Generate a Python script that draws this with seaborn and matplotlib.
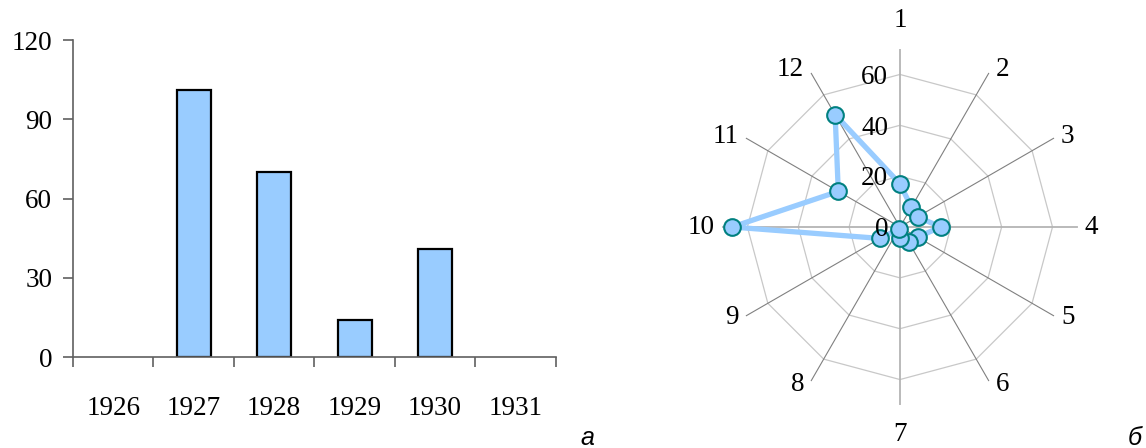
import numpy as np
import pandas as pd
import matplotlib
matplotlib.use('Agg')
import matplotlib.pyplot as plt
import seaborn as sns

# bar chart data (a)
years = ['1926', '1927', '1928', '1929', '1930', '1931']
counts = [0, 101, 70, 14, 41, 0]
bar_yticks = [0, 30, 60, 90, 120]

# radar chart data (б)
months = ['1', '2', '3', '4', '5', '6', '7', '8', '9', '10', '11', '12']
month_values = [17, 9, 8, 16, 8, 7, 4.5, 1, 9, 66, 28, 51]
radar_ticks = [0, 20, 40, 60]

sns.set_style('white')
plt.rcParams['font.family'] = ['Liberation Serif', 'DejaVu Serif']
plt.rcParams['text.color'] = 'black'
plt.rcParams['xtick.labelcolor'] = 'black'
plt.rcParams['ytick.labelcolor'] = 'black'

fig = plt.figure(figsize=(11.46, 4.48), dpi=100)

# --- bar chart ---
ax1 = fig.add_axes([0.0637, 0.203, 0.4213, 0.7076])
df = pd.DataFrame({'year': years, 'count': counts})
sns.barplot(data=df[df['count'] > 0], x='year', y='count', order=years,
            color='#99CCFF', saturation=1, edgecolor='black', linewidth=1.6,
            width=0.42, ax=ax1)
ax1.set_xlim(-0.5, 5.5)
ax1.set_ylim(0, 120)
ax1.set_yticks(bar_yticks)
ax1.set_xlabel('')
ax1.set_ylabel('')
for s in ['top', 'right']:
    ax1.spines[s].set_visible(False)
for s in ['left', 'bottom']:
    ax1.spines[s].set_color('#606060')
    ax1.spines[s].set_linewidth(1.2)
ax1.set_xticks(np.arange(-0.5, 6, 1), minor=True)
ax1.tick_params(axis='x', which='major', bottom=True, length=0, pad=28, labelsize=19.5)
ax1.tick_params(axis='x', which='minor', bottom=True, length=7, width=1.2,
                color='#606060', direction='out')
ax1.tick_params(axis='y', left=True, length=7, width=1.2, color='#606060',
                direction='out', pad=8, labelsize=19.5)

# --- radar chart ---
axp = fig.add_axes([0.630, 0.096, 0.3106, 0.7946], projection='polar')
axp.set_theta_zero_location('N')
axp.set_theta_direction(-1)
axp.set_ylim(0, 70)
axp.grid(False)
axp.set_xticks([])
axp.set_yticks([])
axp.spines['polar'].set_visible(False)
axp.patch.set_alpha(0)

theta = np.arange(len(months)) * 2 * np.pi / len(months)
closed_theta = np.append(theta, theta[0])

for r in radar_ticks[1:]:
    axp.plot(closed_theta, [r] * len(closed_theta), color='#c8c8c8', lw=0.9, zorder=1)
for i, t in enumerate(theta):
    if i % 3 == 0:
        axp.plot([t, t], [0, 70], color='#b4b4b4', lw=1.3, zorder=1)
    else:
        axp.plot([t, t], [0, 70], color='#808080', lw=0.8, zorder=1)

vals = np.array(month_values)
axp.plot(closed_theta, np.append(vals, vals[0]), color='#99CCFF', lw=3.8,
         zorder=3, clip_on=False)
axp.plot(theta, vals, 'o', ms=12, mfc='#99CCFF', mec='#008080', mew=1.5,
         zorder=4, clip_on=False)

for v in radar_ticks:
    axp.annotate(str(v), xy=(0, v), xytext=(-8.5, -2), textcoords='offset points',
                 ha='right', va='center', fontsize=19.5, zorder=5)

for lab, t in zip(months, theta):
    dx, dy = np.sin(t), np.cos(t)
    if abs(dx) < 0.1:
        if dy > 0:
            axp.annotate(lab, xy=(t, 70), xytext=(0, 15.6), textcoords='offset points',
                         ha='center', va='baseline', fontsize=19.5, annotation_clip=False)
        else:
            axp.annotate(lab, xy=(t, 70), xytext=(0, -12.5), textcoords='offset points',
                         ha='center', va='top', fontsize=19.5, annotation_clip=False)
    else:
        axp.annotate(lab, xy=(t, 70), xytext=(np.sign(dx) * 5, dy * 2.5),
                     textcoords='offset points', ha='left' if dx > 0 else 'right',
                     va='center', fontsize=19.5, annotation_clip=False)

fig.text(587 / 1146, 3 / 448, 'а', ha='center', va='baseline', fontsize=18,
         style='italic', family=['Liberation Sans', 'DejaVu Sans'])
fig.text(1135 / 1146, 3 / 448, 'б', ha='center', va='baseline', fontsize=18,
         style='italic', family=['Liberation Sans', 'DejaVu Sans'])

fig.savefig('out.png', dpi=100)
